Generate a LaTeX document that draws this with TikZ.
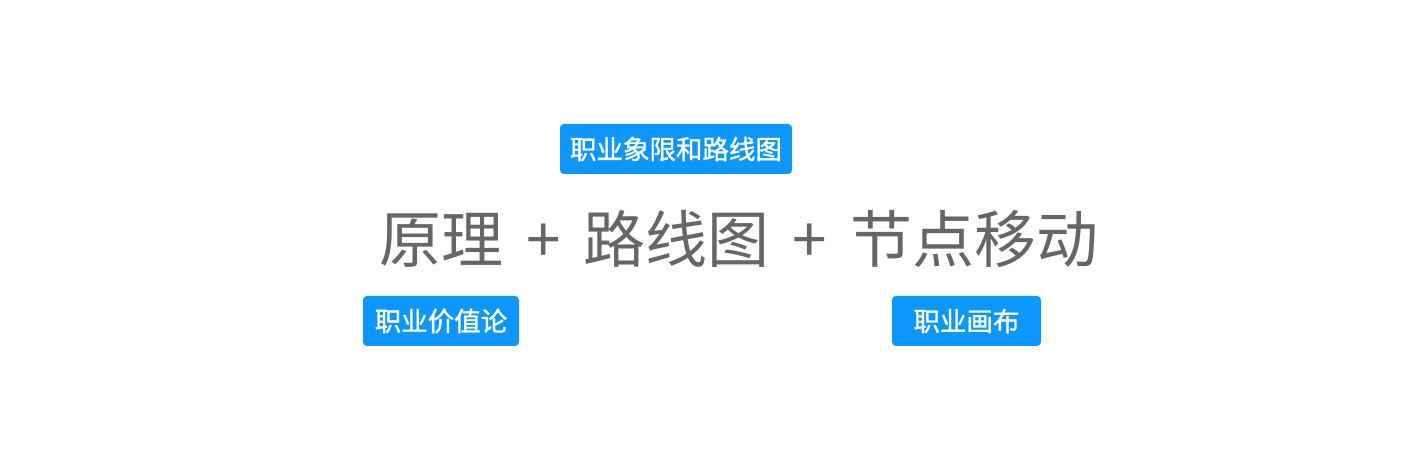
\documentclass[tikz,border=0pt]{standalone}
\usepackage{fontspec}
\usepackage{xcolor}
\newfontfamily\cjk{Noto Sans CJK SC}
\newfontfamily\cjktag[FakeBold=1.2]{Noto Sans CJK SC}
\definecolor{tagblue}{HTML}{0E97FB}
\definecolor{textgray}{HTML}{666666}
\usetikzlibrary{positioning}

\begin{document}
\begin{tikzpicture}[x=1pt, y=1pt,
    tag/.style={fill=tagblue, rounded corners=4pt, inner sep=0pt, minimum height=50pt,
                text=white, font=\cjktag\fontsize{26.5}{30}\selectfont},
    title/.style={text=textgray, inner sep=0pt, font=\cjk\fontsize{62}{72}\selectfont}]
    \useasboundingbox (0,0) rectangle (1427,454);
    \node[title] (main) at (739,215) {原理 \hspace{9pt}+\hspace{9pt} 路线图 \hspace{9pt}+\hspace{9pt} 节点移动};
    \node[tag, minimum width=232pt] (quadrant) at (676,305) {职业象限和路线图};
    \node[tag, minimum width=156pt] (value) at (441,133) {职业价值论};
    \node[tag, minimum width=149pt] (canvas) at (966.5,133) {职业画布};
\end{tikzpicture}
\end{document}
